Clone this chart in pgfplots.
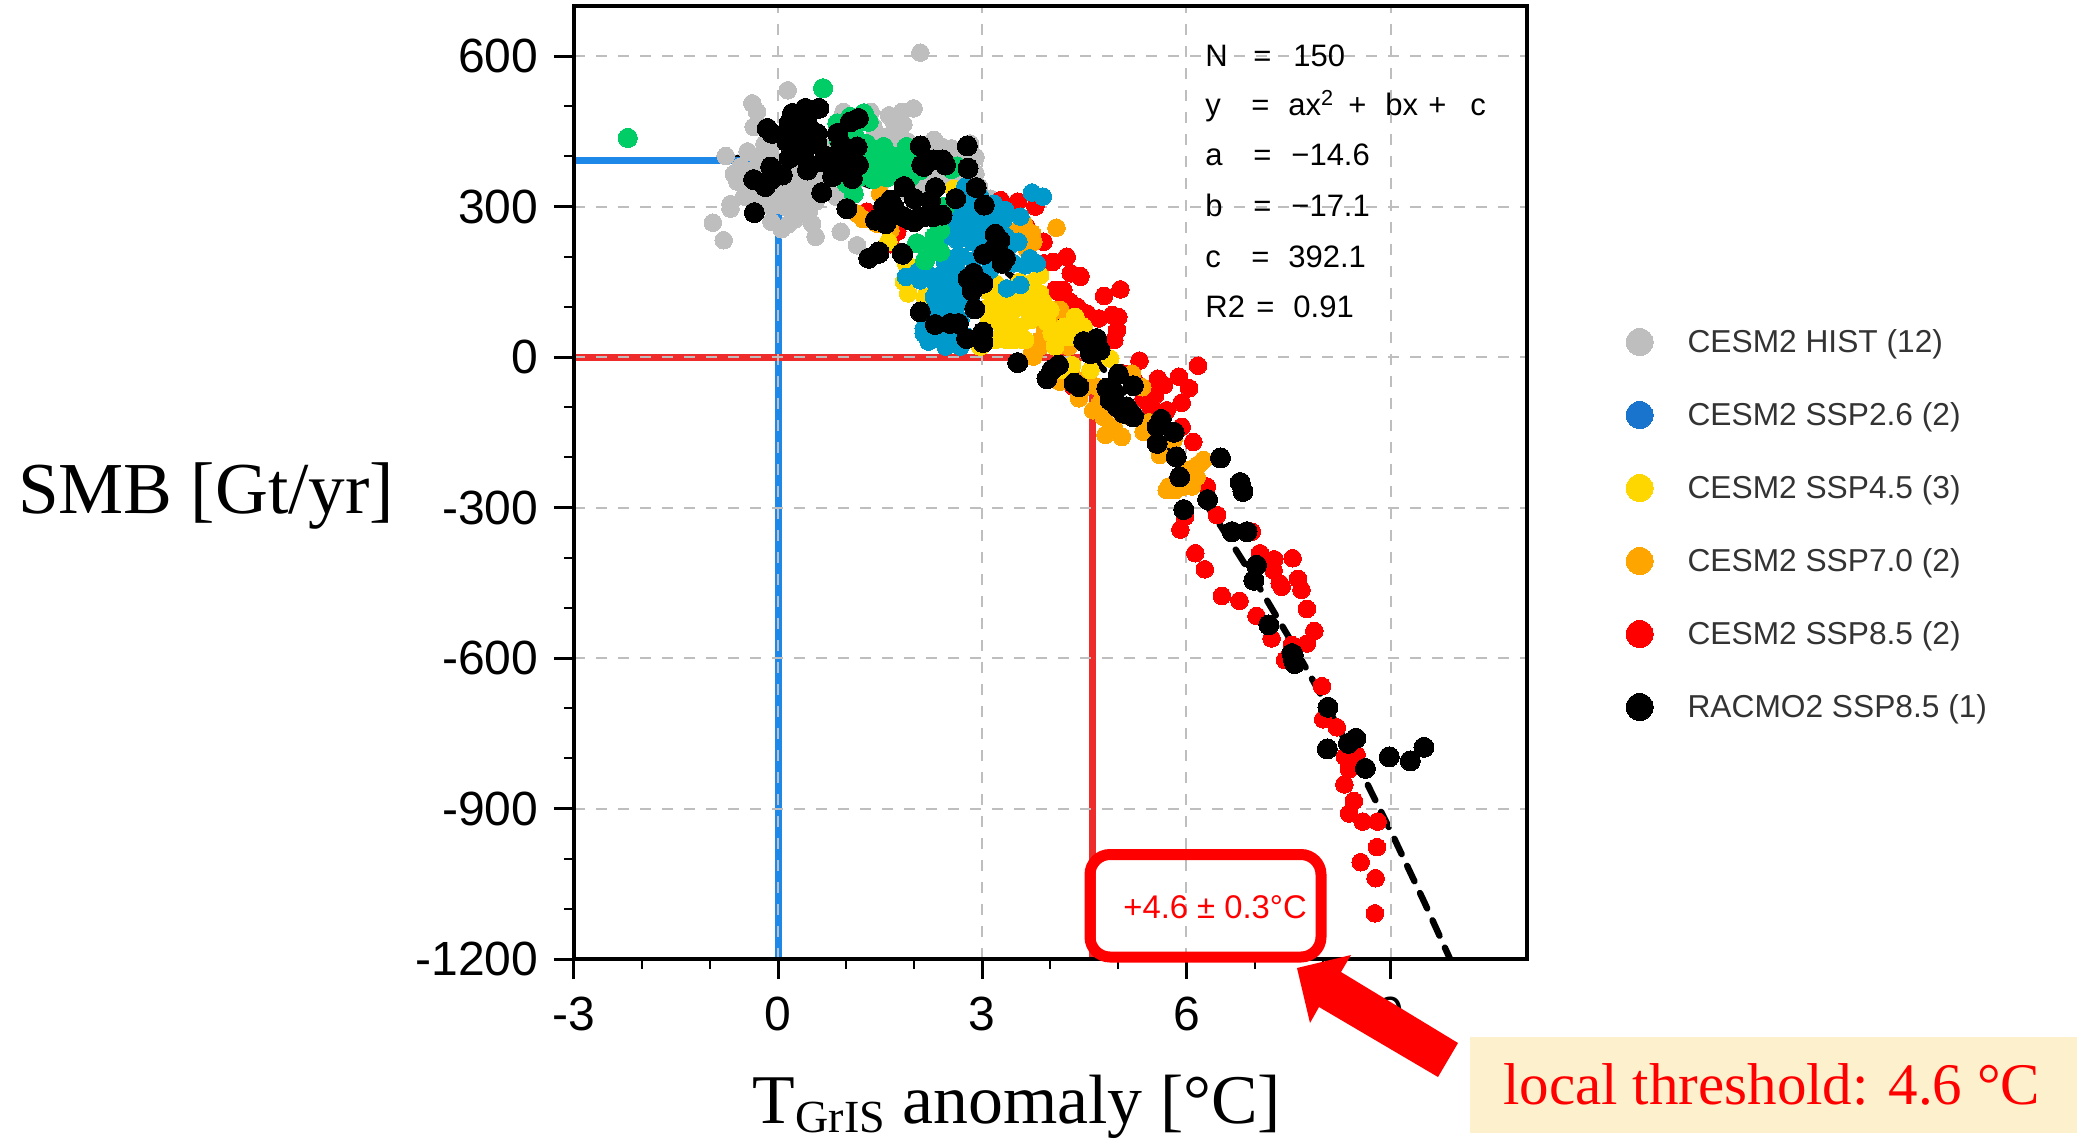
\documentclass[border=0pt]{standalone}
\usepackage{pgfplots}
\pgfplotsset{compat=1.18}
\usepackage{fontspec}
\setmainfont{Liberation Sans}
\newfontfamily\serifl{Liberation Serif}
\definecolor{cgray}{HTML}{BEBEBE}
\definecolor{cblue}{HTML}{0099CC}
\definecolor{clegblue}{HTML}{1874CD}
\definecolor{cyellow}{HTML}{FFD700}
\definecolor{corange}{HTML}{FFA500}
\definecolor{cgreen}{HTML}{00CD66}
\definecolor{lblue}{HTML}{1E88E8}
\definecolor{lred}{HTML}{EE2C2C}
\definecolor{boxfill}{HTML}{FDF1CD}
\definecolor{legtxt}{HTML}{333333}
\pgfplotsset{dots/.style={only marks,mark=*,mark size=#1,forget plot}}
\begin{document}
\begin{tikzpicture}[x=0.5pt,y=-0.5pt]
\path[use as bounding box] (0,0) rectangle (2095,1145);
\begin{axis}[
  at={(287pt,-479.5pt)},anchor=south west,
  scale only axis,width=476.35pt,height=476.5pt,
  xmin=-3,xmax=11,ymin=-1200,ymax=700,
  axis on top,
  axis line style={line width=2pt},
  xtick={-3,0,3,6,9},xticklabels={-3,0,3,6,9},
  ytick={-1200,-900,-600,-300,0,300,600},
  yticklabels={-1200,-900,-600,-300,0,300,600},
  minor x tick num=2,minor y tick num=2,
  tick align=outside,
  xtick pos=bottom,ytick pos=left,
  major tick length=10pt,minor tick length=5pt,
  major tick style={line width=1.5pt,black},
  minor tick style={line width=1pt,black},
  xmajorgrids,ymajorgrids,
  major grid style={line width=1pt,cgray,dash pattern=on 5.5pt off 5.5pt},
  tick label style={font=\fontsize{24}{26}\selectfont},
  xticklabel style={yshift=-5.7pt},
  yticklabel style={xshift=-4.3pt},
  xlabel={{\serifl T\raisebox{-4.5pt}{\fontsize{23}{24}\selectfont GrIS} anomaly [°C]}},
  ylabel={{\serifl SMB [Gt/yr]}},
  every axis x label/.style={at={(axis description cs:0.465,-0.173)},anchor=base,inner sep=0pt,font=\fontsize{34.9}{36}\selectfont},
  every axis y label/.style={at={(axis description cs:-0.584,0.467)},anchor=base west,inner sep=0pt,font=\fontsize{36.6}{38}\selectfont},
  legend style={at={(axis description cs:1.104,0.662)},anchor=north west,draw=none,fill=none,
    row sep=23pt,column sep=17.2pt,font=\fontsize{15.85}{17}\selectfont,text=legtxt,
    inner sep=0pt,nodes={inner sep=0pt}},
  legend cell align=left,
  legend image code/.code={\draw[#1,draw=none] plot coordinates {(0.3cm,0pt)};},
]
% gray: CESM2 HIST
\addplot[dots=4.4pt,mark options={draw=cgray,fill=cgray,line width=0pt}] coordinates {
(2.09,607)(0.14,532)(-0.38,506)(-0.31,489)(-0.36,459)(-0.77,401)(-0.96,268)(-0.80,233)
(-0.70,305)(-0.70,296)(0.50,266)(0.55,240)(0.92,250)(1.16,223)(1.63,482)(1.82,489)
(1.99,496)(1.84,464)(0.96,489)(1.36,489)(1.55,439)(2.29,433)(2.55,416)(2.82,426)
(2.90,399)(2.90,366)(2.95,340)(3.12,316)
(-0.60,350)(-0.55,380)(-0.45,410)(-0.40,330)(-0.50,320)(-0.30,300)(-0.25,350)(-0.25,390)
(-0.2,425)(-0.1,300)(-0.1,270)(-0.05,340)(0,390)(0.05,255)(0.1,300)(0.15,265)(0.25,275)
(0.25,330)(0.35,300)(0.4,355)(0.45,290)(0.55,310)(0.6,345)(0.75,330)(0.85,320)(0.8,370)
(1.0,340)(0.5,380)(0.2,380)(-0.12,420)(0.0,440)
(0.9,450)(1.1,420)(1.2,470)(1.3,380)(1.45,410)(1.6,440)(1.7,400)(1.9,430)(2.0,370)
(2.2,400)(2.4,360)(2.5,390)(2.7,350)(2.7,400)(2.1,340)(2.6,320)(1.5,345)(1.9,330)(1.7,470)(1.4,460)
(0.7,420)(0.65,385)
(-0.65,365)(-0.45,355)(-0.35,375)(-0.50,345)(-0.35,350)(-0.15,375)(-0.2,325)(-0.3,400)(-0.1,400)
(0.05,320)(0.15,340)(0.1,360)(0.3,355)(0.25,300)(0.4,325)(0.5,340)(0.7,355)(0.6,375)(0.95,365)(1.1,345)
(1.2,400)(1.05,450)(1.35,430)(1.8,440)(2.05,400)(2.15,370)(2.3,390)(2.55,350)(2.8,375)(2.4,420)(1.75,430)
};
% red: CESM2 SSP8.5
\addplot[dots=4.4pt,mark options={draw=red,fill=red,line width=0pt}] coordinates {
(3.27,313)(3.52,310)(3.78,300)(4.24,200)(4.04,190)(3.91,187)(4.30,167)(4.44,162)(4.1,132)
(4.79,122)(5.03,135)(4.29,110)(4.40,100)(4.54,87)(4.71,77)(4.91,84)(5.0,80)(4.98,54)(4.94,34)
(4.07,134)(4.19,134)(4.44,160)(3.65,260)(3.9,230)(1.3,290)(1.75,250)(1.65,225)
(5.31,-7)(6.17,-17)(5.89,-39)(6.04,-62)(5.58,-43)(5.67,-56)(5.54,-76)(5.42,-89)(5.93,-91)
(5.71,-106)(5.37,-82)(5.93,-139)(6.10,-169)(5.08,-33)(4.34,-59)
(6.30,-258)(6.45,-315)(5.98,-318)(5.91,-344)(6.13,-391)(6.27,-423)(6.52,-476)(6.78,-486)
(7.03,-516)(7.25,-561)(7.08,-391)(7.29,-403)(7.56,-401)(7.28,-425)(7.64,-442)(7.37,-451)
(7.40,-458)(7.69,-464)(7.77,-502)(7.88,-546)(7.77,-571)(7.55,-574)(7.45,-604)(6.96,-348)
(7.99,-656)(8.01,-722)(8.21,-738)(8.33,-797)(8.50,-793)(8.39,-822)(8.32,-852)(8.46,-885)
(8.39,-910)(8.59,-926)(8.81,-926)(8.80,-977)(8.56,-1007)(8.78,-1039)(8.77,-1109)
(4.2,120)(4.38,92)(5.46,-65)(5.25,-50)(5.48,-100)
};
% orange: CESM2 SSP7.0
\addplot[dots=4.4pt,mark options={draw=corange,fill=corange,line width=0pt}] coordinates {
(4.09,258)(3.73,247)(3.75,230)(3.61,266)(1.16,286)(1.50,326)(1.65,253)(1.45,266)(1.25,275)
(3.85,34)(3.73,7)(4.0,67)(4.15,94)(3.95,47)(4.27,21)(3.85,21)(3.75,1)(3.92,60)(4.1,94)
(5.2,-33)(4.42,-82)(4.14,-49)(4.63,-106)(4.78,-119)(4.73,-92)(4.81,-155)(5.05,-159)(4.93,-139)
(5.37,-149)(5.17,-119)(5.61,-195)(5.81,-165)
(6.2,-212)(6.13,-219)(6.25,-205)(6.15,-239)(5.74,-258)(5.84,-265)(5.71,-265)(5.96,-258)(6.08,-258)
(4.5,-60)(4.3,-30)(4.55,-40)(3.66,215)(3.5,250)(4.7,-60)(5.35,-60)(5.45,-130)(6.05,-225)
};
% yellow: CESM2 SSP4.5
\addplot[dots=4.4pt,mark options={draw=cyellow,fill=cyellow,line width=0pt}] coordinates {
(1.85,150)(1.91,127)(1.62,230)(2.58,336)(3.19,147)(3.46,127)(3.21,107)(3.46,94)(3.17,74)
(3.44,67)(3.71,74)(3.63,34)(3.36,34)(3.19,34)(3.71,107)(3.85,127)(3.85,163)(3.80,87)(4.0,94)
(4.02,47)(4.07,21)(4.24,41)(4.37,80)(4.44,60)(2.16,120)(2.97,21)(1.88,187)(2.82,273)
(3.80,87)(4.02,50)(4.36,80)(4.27,40)(4.49,60)(4.07,24)(4.88,-3)(4.59,-26)(4.32,-16)(3.70,74)
(3.46,34)(3.6,34)(4.14,-26)(3.3,90)(3.6,100)(3.55,150)(3.1,100)(4.75,10)
(3.3,125)(3.3,60)(3.55,60)(3.1,70)(3.45,110)(3.35,45)(3.65,130)(3.75,150)(3.9,110)(3.1,130)(3.95,70)(4.2,60)
};
% blue: CESM2 SSP2.6
\addplot[dots=4.4pt,mark options={draw=cblue,fill=cblue,line width=0pt}] coordinates {
(3.73,328)(3.89,320)(3.56,280)(3.53,230)(3.70,197)(3.80,187)(3.63,183)(3.36,137)(3.56,144)
(1.88,160)(2.14,57)(2.21,31)(2.46,21)(2.68,21)
(2.73,313)(2.97,320)(3.17,306)(3.34,293)(3.31,273)(2.68,280)(2.80,290)(2.77,253)(2.63,233)(2.97,260)
(3.41,223)(3.46,187)(3.27,200)(2.63,200)(2.53,167)(2.19,167)(2.33,140)(2.63,140)(3.11,173)
(2.87,193)(2.09,153)(2.33,107)(2.58,107)(2.73,160)(2.43,80)(2.24,80)(2.68,74)(2.36,47)(2.53,41)
(2.77,41)(2.14,47)(2.29,120)(2.83,120)(2.45,190)(2.85,230)(3.05,240)(2.50,140)(2.45,115)(2.9,160)
(3.15,280)(2.45,60)(2.70,200)(2.40,165)(2.90,310)(2.75,340)
(2.60,300)(3.10,220)(2.60,95)(2.30,95)(2.55,70)(2.30,160)(2.70,110)(2.62,175)(2.85,275)(3.05,290)
(2.55,260)(2.45,240)(3.2,250)(3.35,240)(2.3,60)(2.6,30)(2.05,170)(2.55,125)(2.4,100)
};
% green (no legend entry in the source)
\addplot[dots=4.8pt,mark options={draw=cgreen,fill=cgreen,line width=0pt}] coordinates {
(-2.21,437)(0.66,536)(0.87,466)(1.06,479)(1.26,486)(1.33,469)(1.11,446)(0.89,433)(1.01,346)(1.11,326)
(1.36,399)(1.55,419)(1.65,393)(1.60,359)(1.45,379)(1.89,419)(1.85,393)(2.09,373)(1.94,359)(1.70,373)
(1.5,410)(1.55,385)(1.95,385)(2.04,227)(2.38,210)(2.16,193)(2.26,223)(2.38,253)(2.45,300)(2.38,280)
(1.62,366)(2.63,380)(2.30,240)(2.55,375)(1.3,425)(1.0,420)(1.7,400)(2.1,400)(1.4,355)(1.85,345)(1.2,360)
};
% fit
\addplot[black,line width=3.2pt,line cap=round,dash pattern=on 8.5pt off 6.5pt,forget plot] coordinates {
(-0.6,397.1)(0,392.1)(0.5,379.9)(1,360.4)(1.5,333.6)(2,299.5)(2.5,258.1)(3,209.4)(3.5,153.4)
(4,90.1)(4.5,19.5)(5,-58.4)(5.5,-143.6)(6,-236.1)(6.5,-335.9)(7,-443)(7.5,-557.4)(8,-679.1)
(8.5,-808.1)(9,-944.4)(9.5,-1088)(9.87,-1198.9)};
% thresholds
\addplot[lblue,line width=3.4pt,forget plot] coordinates {(-3,392)(0,392)(0,-1200)};
\addplot[lred,line width=3.4pt,forget plot] coordinates {(-3,0)(4.62,0)(4.62,-1200)};
% black: RACMO2 SSP8.5
\addplot[dots=5pt,mark options={draw=black,fill=black,line width=0pt}] coordinates {
(8.08,-698)(8.07,-781)(8.49,-760)(8.38,-770)(8.63,-820)(8.98,-797)(9.29,-805)(9.49,-778)
(7.57,-601)(7.59,-611)(7.55,-591)(7.57,-594)(7.21,-534)(7.03,-415)(6.99,-445)(6.67,-348)(6.89,-348)
(6.79,-250)(6.83,-268)(6.50,-201)(6.31,-284)(5.96,-304)(5.90,-239)(5.85,-199)(5.57,-172)(5.82,-150)
(5.63,-124)(5.22,-57)(5.0,-34)(4.83,-62)(4.88,-86)(4.98,-99)(5.08,-112)(5.22,-119)(4.93,-79)(5.12,-99)
(4.42,-59)(4.35,-52)(4.12,-16)(4.02,-26)(3.95,-43)(3.52,-11)(4.59,7)(4.68,37)(4.49,31)(4.73,14)(4.63,21)
(5.57,-139)
(2.09,90)(2.31,65)(2.53,67)(2.65,67)(2.77,37)(3.01,50)(3.01,29)(2.89,96)(2.85,132)(2.79,157)(3.01,147)
(2.87,167)(3.02,205)(3.19,245)(3.26,233)(3.34,197)(3.29,187)(3.19,220)(3.03,303)(2.91,338)(2.61,316)
(2.79,376)(2.31,338)(1.86,339)(1.83,205)(1.48,207)(2.41,283)(2.28,280)(2.14,280)(2.0,270)(1.84,280)
(1.60,280)(1.58,266)(1.7,300)(2.0,316)(2.24,313)(1.65,313)(2.14,380)(2.46,383)
(-0.16,456)(-0.09,446)(-0.36,354)(-0.19,340)(-0.11,353)(-0.11,379)(0.06,363)(-0.35,288)(0.64,328)
(0.43,373)(0.16,396)(0.21,486)(0.40,496)(0.60,496)(0.50,492)(0.16,466)(0.43,466)(0.13,429)(0.33,446)
(0.57,446)(0.18,446)(0.40,419)(0.57,426)(0.38,399)(0.65,389)(0.87,446)(0.92,426)(1.16,419)(1.18,476)
(1.06,469)(0.87,373)(1.01,393)(1.18,383)(1.09,356)(1.01,296)(1.43,273)(1.60,273)(1.85,340)(1.48,210)
(1.33,197)(1.82,207)(2.09,421)(2.11,383)(1.55,300)(1.94,273)(2.78,421)(2.79,377)(2.42,393)(2.29,393)
(2.91,338)(0.25,410)(0.1,440)(0.72,400)(0.3,470)(0.95,400)(0.8,360)
};
\addlegendimage{only marks,mark=*,mark size=6.75pt,mark options={draw=cgray,fill=cgray,line width=0pt}}
\addlegendentry{CESM2 HIST (12)}
\addlegendimage{only marks,mark=*,mark size=6.75pt,mark options={draw=clegblue,fill=clegblue,line width=0pt}}
\addlegendentry{CESM2 SSP2.6 (2)}
\addlegendimage{only marks,mark=*,mark size=6.75pt,mark options={draw=cyellow,fill=cyellow,line width=0pt}}
\addlegendentry{CESM2 SSP4.5 (3)}
\addlegendimage{only marks,mark=*,mark size=6.75pt,mark options={draw=corange,fill=corange,line width=0pt}}
\addlegendentry{CESM2 SSP7.0 (2)}
\addlegendimage{only marks,mark=*,mark size=6.75pt,mark options={draw=red,fill=red,line width=0pt}}
\addlegendentry{CESM2 SSP8.5 (2)}
\addlegendimage{only marks,mark=*,mark size=6.75pt,mark options={draw=black,fill=black,line width=0pt}}
\addlegendentry{RACMO2 SSP8.5 (1)}
\end{axis}
% fit statistics
\begin{scope}[every node/.style={anchor=base west,inner sep=0pt,font=\fontsize{15.5}{17}\selectfont}]
\node at (1205,66.7) {N};    \node at (1253,66.7) {=}; \node at (1293,66.7) {150};
\node at (1205,116) {y};     \node at (1251,116) {=};  \node at (1288,116) {ax\textsuperscript{2}};
\node at (1348,116) {+}; \node at (1385,116) {bx}; \node at (1428,116) {+}; \node at (1470,116) {c};
\node at (1205,166) {a};     \node at (1253,166) {=};  \node at (1291,166) {−14.6};
\node at (1205,216) {b};     \node at (1253,216) {=};  \node at (1291,216) {−17.1};
\node at (1205,267) {c};     \node at (1251,267) {=};  \node at (1288,267) {392.1};
\node at (1205,317) {R2};    \node at (1256,317) {=};  \node at (1293,317) {0.91};
\end{scope}
% threshold callout
\draw[red,line width=5.5pt,rounded corners=10pt] (1090,854.5) rectangle (1321,957);
\node[anchor=base west,inner sep=0pt,text=red,font=\fontsize{16.4}{18}\selectfont] at (1123,918) {+4.6 ± 0.3°C};
\fill[red] (1297,968) -- (1351,955) -- (1341,972) -- (1458,1043) -- (1438,1077) -- (1319,1007) -- (1310,1023) -- cycle;
\fill[boxfill] (1470,1037) rectangle (2077,1133);
\node[anchor=base west,inner sep=0pt,text=red,font=\serifl\fontsize{29.5}{32}\selectfont] at (1503,1104) {local threshold: 4.6 °C};
\end{tikzpicture}
\end{document}
